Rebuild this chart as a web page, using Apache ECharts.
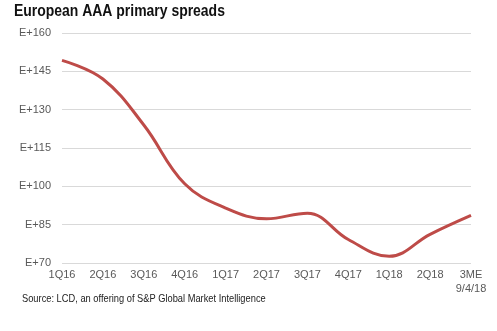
<!DOCTYPE html>
<html><head><meta charset="utf-8">
<script src="https://cdn.jsdelivr.net/npm/echarts@6/dist/echarts.min.js"></script>
<style>html,body{margin:0;padding:0;background:#fff}#c{width:497px;height:331px}</style>
</head><body><div id="c"></div>
<script>
const categories = ['1Q16','2Q16','3Q16','4Q16','1Q17','2Q17','3Q17','4Q17','1Q18','2Q18','3ME\n9/4/18'];
const spreads = [149.3, 142, 124, 101, 91.5, 87.3, 89.5, 79.2, 72.6, 81.2, 88.6];
const yMin = 70, yMax = 160, yStep = 15;
const titleText = 'European AAA primary spreads';
const sourceText = 'Source: LCD, an offering of S&P Global Market Intelligence';
const FONT = '"Liberation Sans", Arial';

const chart = echarts.init(document.getElementById('c'), null, {renderer:'canvas'});
chart.setOption({
  animation:false,
  backgroundColor:'#fff',
  graphic:[{
    type:'text', x:14, y:4, scaleX:0.872,
    style:{text:titleText, font:'bold 16px "Liberation Sans", Arial', fill:'#111', textVerticalAlign:'top'}
  },{
    type:'text', x:22, y:293, scaleX:0.845,
    style:{text:sourceText, font:'11px "Liberation Sans", Arial', fill:'#222', textVerticalAlign:'top'}
  }],
  grid:{left:62, right:26, top:33, bottom:68},
  xAxis:{
    type:'category', data:categories, boundaryGap:false,
    axisLine:{show:false}, axisTick:{show:false},
    axisLabel:{color:'#595959', fontFamily:FONT, fontSize:11, margin:5, lineHeight:14, interval:0}
  },
  yAxis:{
    type:'value', min:yMin, max:yMax, interval:yStep,
    axisLine:{show:false}, axisTick:{show:false},
    axisLabel:{color:'#595959', fontFamily:FONT, fontSize:11, margin:11, formatter:v=>'E+'+v},
    splitLine:{lineStyle:{color:'#d9d9d9', width:1}}
  },
  series:[{
    type:'line', data:spreads, smooth:0.4, symbol:'none',
    lineStyle:{color:'#be4b48', width:3}
  }]
});
</script></body></html>
